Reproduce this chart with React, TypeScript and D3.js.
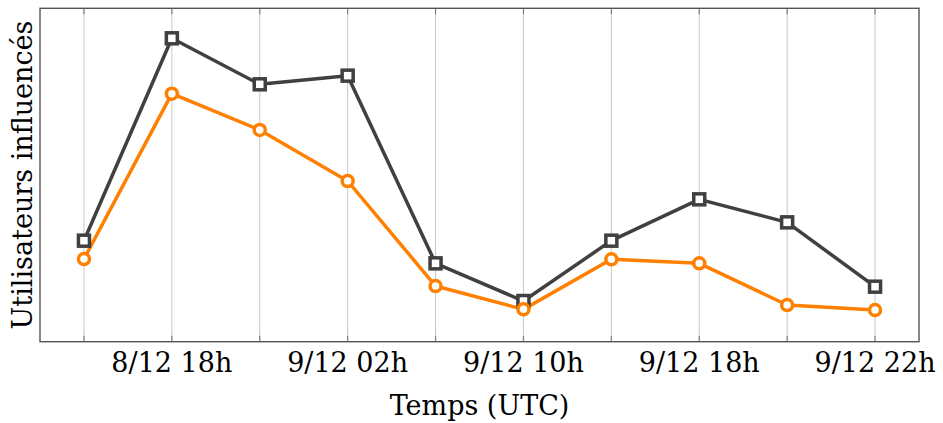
import React from "react";
import * as d3 from "d3";

const pointIndex = [0, 1, 2, 3, 4, 5, 6, 7, 8, 9];
const seriesTotal = [30.3, 91.0, 77.2, 79.8, 23.5, 12.2, 30.3, 42.7, 35.8, 16.5];
const seriesDirect = [24.8, 74.4, 63.5, 48.2, 16.7, 9.7, 24.7, 23.5, 11.0, 9.5];
const tickPositions = [1, 3, 5, 7, 9];
const tickLabels = ["8/12 18h", "9/12 02h", "9/12 10h", "9/12 18h", "9/12 22h"];
const xLabel = "Temps (UTC)";
const yLabel = "Utilisateurs influencés";

const W = 943;
const H = 423;
const L = 40, R = 919, T = 8.3, B = 341.7;
const FONT = "'DejaVu Serif', serif";

export default function App() {
  const x = d3.scaleLinear().domain([-0.5, 9.5]).range([L, R]);
  const y = d3.scaleLinear().domain([0, 100]).range([B, T]);
  const line = d3
    .line<number>()
    .x((_, i) => x(pointIndex[i]))
    .y((d) => y(d));
  const dark = "#404040";
  const orange = "#ff8000";
  return (
    <svg
      width={W}
      height={H}
      style={{ position: "absolute", left: 0, top: 0, background: "#fff" }}
      fontFamily={FONT}
    >
      <rect x={0} y={0} width={W} height={H} fill="#fff" />
      {pointIndex.map((i) => (
        <line key={"g" + i} x1={x(i)} x2={x(i)} y1={T} y2={B} stroke="#c8c8c8" strokeWidth={1} />
      ))}
      {pointIndex.map((i) => (
        <g key={"t" + i}>
          <line x1={x(i)} x2={x(i)} y1={B} y2={B - 6} stroke="#808080" strokeWidth={1.2} />
          <line x1={x(i)} x2={x(i)} y1={T} y2={T + 6} stroke="#808080" strokeWidth={1.2} />
        </g>
      ))}
      <rect x={L} y={T} width={R - L} height={B - T} fill="none" stroke="#555" strokeWidth={1.4} />
      <path d={line(seriesTotal) || ""} fill="none" stroke={dark} strokeWidth={3.5} strokeLinejoin="round" />
      <path d={line(seriesDirect) || ""} fill="none" stroke={orange} strokeWidth={3.5} strokeLinejoin="round" />
      {seriesTotal.map((v, i) => (
        <rect
          key={"s" + i}
          x={x(pointIndex[i]) - 5.5}
          y={y(v) - 5.5}
          width={11}
          height={11}
          fill="#fff"
          stroke={dark}
          strokeWidth={3.5}
        />
      ))}
      {seriesDirect.map((v, i) => (
        <circle key={"c" + i} cx={x(pointIndex[i])} cy={y(v)} r={5.5} fill="#fff" stroke={orange} strokeWidth={3.5} />
      ))}
      {tickPositions.map((p, i) => (
        <text key={"l" + i} x={x(p)} y={372} textAnchor="middle" fontSize={27} fill="#000">
          {tickLabels[i]}
        </text>
      ))}
      <text x={(L + R) / 2} y={415} textAnchor="middle" fontSize={27} fill="#000">
        {xLabel}
      </text>
      <text
        transform={`translate(32, ${(T + B) / 2}) rotate(-90)`}
        textAnchor="middle"
        fontSize={27}
        fill="#000"
      >
        {yLabel}
      </text>
    </svg>
  );
}
